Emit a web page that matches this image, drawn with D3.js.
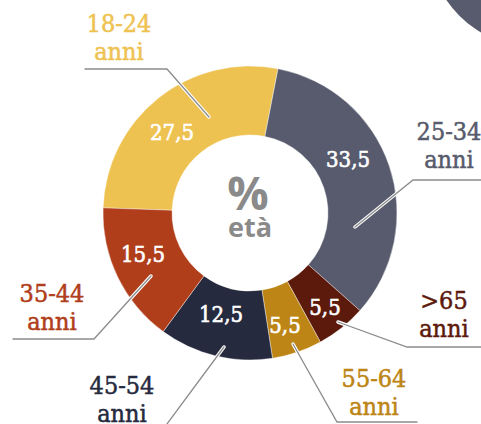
<!DOCTYPE html>
<html>
<head>
<meta charset="utf-8">
<script src="https://cdn.jsdelivr.net/npm/d3@7"></script>
<style>
  body { margin: 0; background: #fff; overflow: hidden; }
  .cat { font-family: "DejaVu Serif Condensed", "DejaVu Serif", serif; font-size: 25px; stroke-width: 0.5px; }
  .val { font-family: "DejaVu Serif Condensed", "DejaVu Serif", serif; font-size: 22px; fill: #fff; stroke: #fff; stroke-width: 0.6px; }
  .mid { font-family: "Open Sans", sans-serif; font-weight: 700; fill: #8a8a8a; text-anchor: middle; }
</style>
</head>
<body>
<script>
// age groups, clockwise from the left
var groups = ["18-24", "25-34", ">65", "55-64", "45-54", "35-44"];
var values = [27.5, 33.5, 5.5, 5.5, 12.5, 15.5];
var colors = ["#EEC251", "#575B6D", "#5C1A0C", "#BD8515", "#262A3E", "#B03E1A"];

var svgWidth = 481;
var svgHeight = 424;
var cx = 250, cy = 213;
var outerR = 147, innerR = 78;

// hand placed labels (offsets from the chart centre)
var valPos = [[-78, -73], [98, -46], [75, 102], [35, 120], [-29, 109], [-107, 49]];
var catPos = [[-131, -181], [199, -73], [194, 96], [124, 174], [-128, 181], [-198, 89]];
var leaders = [
  [[-165, -144], [-83, -144], [-41, -96]],
  [[231, -33], [163, -33], [105, 14]],
  [[88, 109], [157, 134], [231, 134]],
  [[43, 131], [87, 209], [167, 209]],
  [[-26, 134], [-86, 215]],
  [[-237, 126], [-156, 126], [-99, 63]]
];

var svg = d3.select("body")
  .append("svg")
  .attr("width", svgWidth)
  .attr("height", svgHeight);

// big circle cut by the top right corner
svg.append("circle")
  .attr("cx", 535)
  .attr("cy", -60)
  .attr("r", 107)
  .attr("fill", "#575B6D");

var chartGroup = svg.append("g")
  .attr("transform", `translate(${cx}, ${cy})`);

var pie = d3.pie()
  .sort(null)
  .startAngle(-88 * Math.PI / 180)
  .endAngle(272 * Math.PI / 180);

var arc = d3.arc()
  .innerRadius(innerR)
  .outerRadius(outerR);

var arcs = pie(values);

chartGroup.selectAll("path.slice")
  .data(arcs)
  .enter()
  .append("path")
  .attr("class", "slice")
  .attr("d", arc)
  .attr("fill", (d, i) => colors[i])
  .attr("stroke", "#fff")
  .attr("stroke-width", 0.4);

// leader lines: white halo under a grey line
var line = d3.line();
leaders.forEach(function(pts) {
  chartGroup.append("path")
    .attr("d", line(pts))
    .attr("fill", "none")
    .attr("stroke", "#fff")
    .attr("stroke-width", 3.5)
    .attr("stroke-linecap", "round")
    .attr("stroke-linejoin", "round");
  chartGroup.append("path")
    .attr("d", line(pts))
    .attr("fill", "none")
    .attr("stroke", "#8c8c8c")
    .attr("stroke-width", 1.3)
    .attr("stroke-linecap", "round");
});

// values inside slices
chartGroup.selectAll("text.val")
  .data(arcs)
  .enter()
  .append("text")
  .attr("class", "val")
  .attr("text-anchor", "middle")
  .attr("x", (d, i) => valPos[i][0])
  .attr("y", (d, i) => valPos[i][1])
  .text(d => String(d.data).replace(".", ","));

// category labels
groups.forEach(function(g, i) {
  var t = chartGroup.append("text")
    .attr("class", "cat")
    .attr("text-anchor", "middle")
    .attr("fill", colors[i])
    .attr("stroke", colors[i]);
  t.append("tspan")
    .attr("x", catPos[i][0])
    .attr("y", catPos[i][1])
    .text(g);
  t.append("tspan")
    .attr("x", catPos[i][0])
    .attr("y", catPos[i][1] + 28)
    .text("anni");
});

// centre
chartGroup.append("text")
  .attr("class", "mid")
  .attr("x", -2)
  .attr("y", -3)
  .style("font-size", "46px")
  .text("%");
chartGroup.append("text")
  .attr("class", "mid")
  .attr("x", 0)
  .attr("y", 24)
  .style("font-size", "27px")
  .text("età");
</script>
</body>
</html>
